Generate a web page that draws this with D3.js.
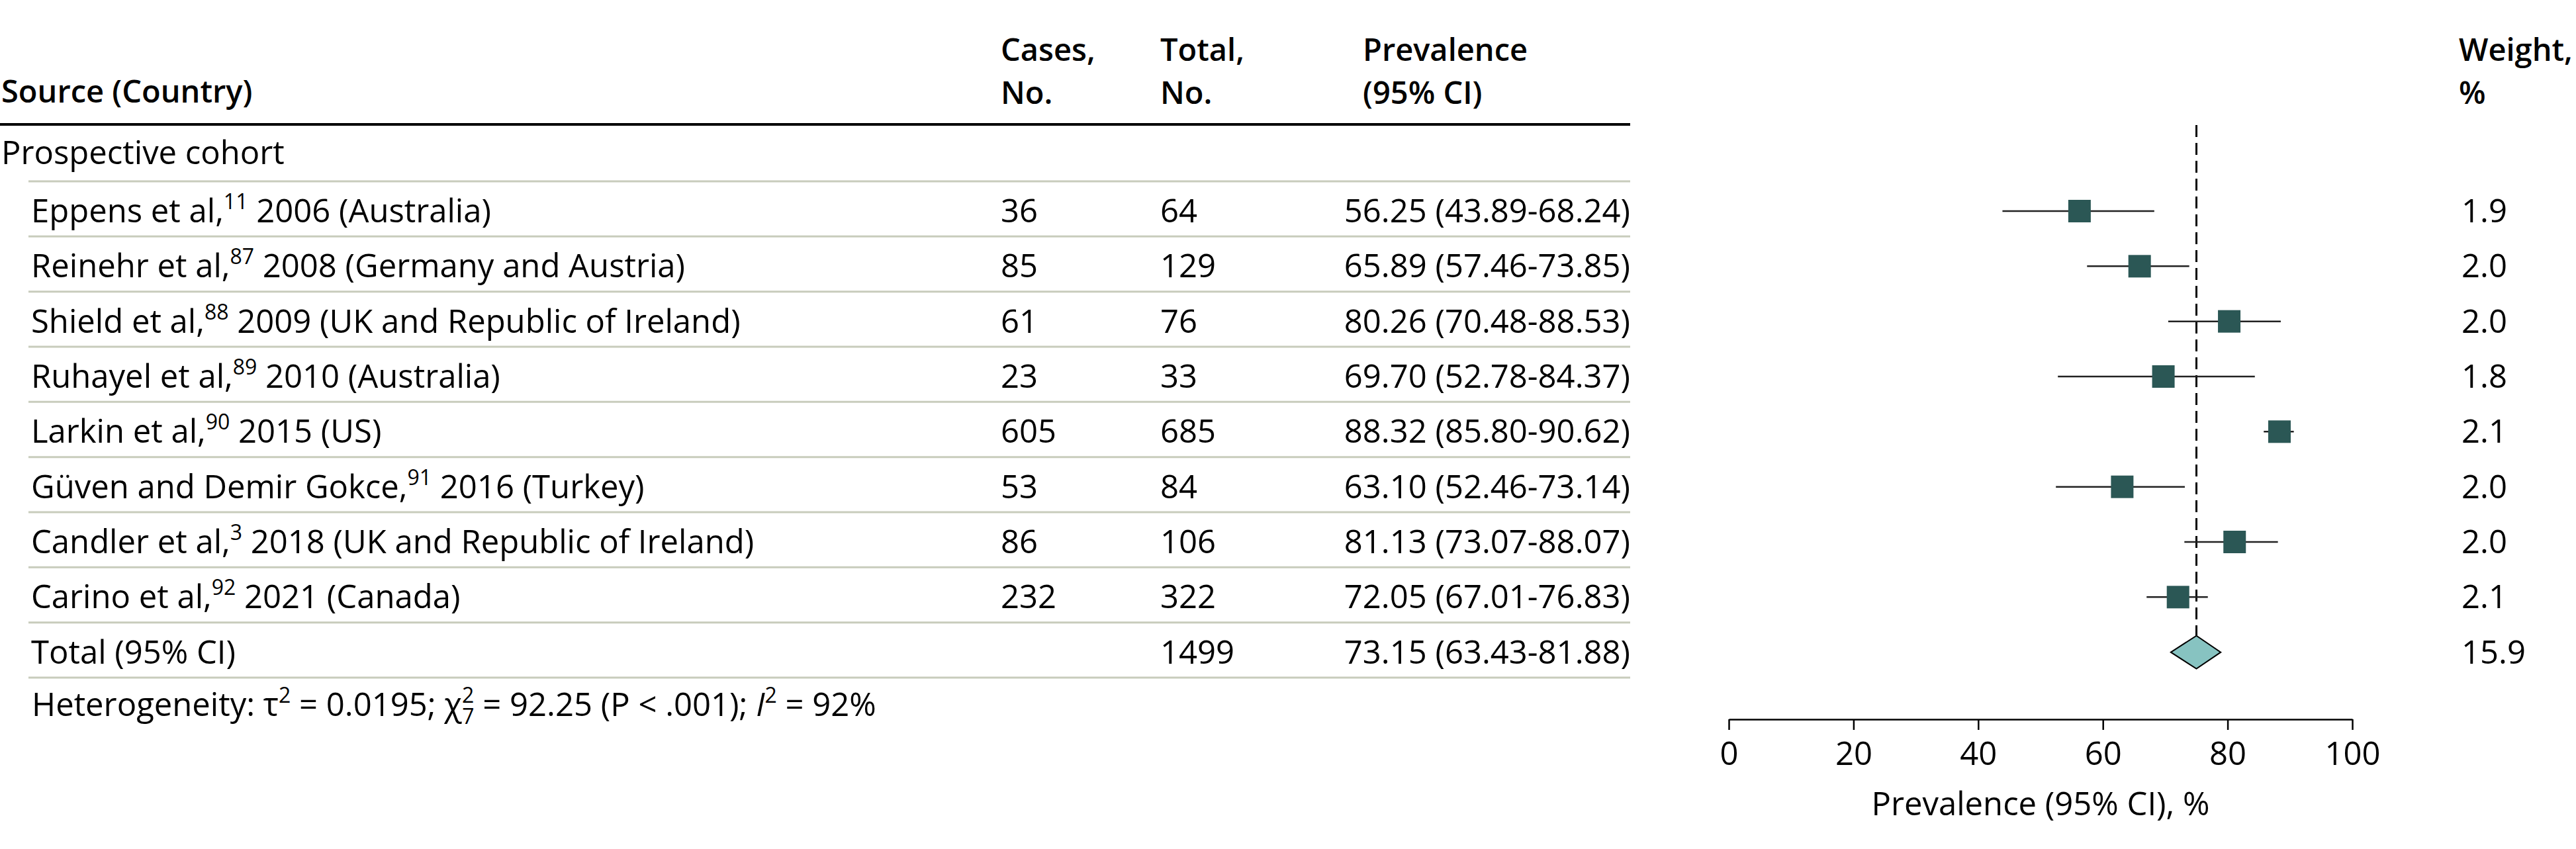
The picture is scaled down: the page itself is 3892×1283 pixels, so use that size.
<!DOCTYPE html>
<html>
<head>
<meta charset="utf-8">
<script src="https://cdn.jsdelivr.net/npm/d3@7"></script>
<style>
  body { margin: 0; background: #fff; }
  svg text { font-family: "Open Sans", "Noto Sans", sans-serif; fill: #000; }
</style>
</head>
<body>
<div id="plot"></div>
<script>
// study rows, top to bottom
var authors = ["Eppens et al,", "Reinehr et al,", "Shield et al,", "Ruhayel et al,", "Larkin et al,",
    "Güven and Demir Gokce,", "Candler et al,", "Carino et al,"];
var refs = ["11", "87", "88", "89", "90", "91", "3", "92"];
var yearCountry = ["2006 (Australia)", "2008 (Germany and Austria)", "2009 (UK and Republic of Ireland)",
    "2010 (Australia)", "2015 (US)", "2016 (Turkey)", "2018 (UK and Republic of Ireland)", "2021 (Canada)"];
var cases = [36, 85, 61, 23, 605, 53, 86, 232];
var totals = [64, 129, 76, 33, 685, 84, 106, 322];
var prevalence = [56.25, 65.89, 80.26, 69.70, 88.32, 63.10, 81.13, 72.05];
var ciLow = [43.89, 57.46, 70.48, 52.78, 85.80, 52.46, 73.07, 67.01];
var ciHigh = [68.24, 73.85, 88.53, 84.37, 90.62, 73.14, 88.07, 76.83];
var weights = ["1.9", "2.0", "2.0", "1.8", "2.1", "2.0", "2.0", "2.1"];

// pooled row (table values) and the diamond as it is drawn in the plot
var pooledTotal = 1499;
var pooledPrev = [73.15, 63.43, 81.88];
var pooledWeight = "15.9";
var diamond = [70.9, 75.0, 78.9]; // low, centre, high

var xTicks = [0, 20, 40, 60, 80, 100];

var width = 3892, height = 1283;
var fs = 49, supFs = 32, headFs = 47;

var svg = d3.select("#plot").append("svg")
    .attr("width", width)
    .attr("height", height)
    .style("font-size", fs + "px");

var x = d3.scaleLinear().domain([0, 100]).range([2612, 3554]);
var rows = d3.scaleBand().domain(d3.range(9)).range([274, 1024]);
function mid(i) { return rows(i) + 45; }
function base(i) { return rows(i) + 62; }

var col = {label: 47, cases: 1512, total: 1753, prev: 2059, prevEnd: 2463, weight: 3719};

function fmt(v) { return v.toFixed(2); }
function ciText(p, lo, hi) { return fmt(p) + " (" + fmt(lo) + "-" + fmt(hi) + ")"; }

//Header
var head = svg.append("g").style("font-weight", 600).style("font-size", headFs + "px");
head.append("text").attr("x", 2).attr("y", 155).text("Source (Country)");
[[col.cases, "Cases,", "No."], [col.total, "Total,", "No."], [col.prev, "Prevalence", "(95% CI)"],
 [col.weight - 4, "Weight,", "%"]].forEach(function(h) {
    head.append("text").attr("x", h[0]).attr("y", 92).text(h[1]);
    head.append("text").attr("x", h[0]).attr("y", 157).text(h[2]);
});

svg.append("line")
    .attr("x1", 0).attr("x2", col.prevEnd)
    .attr("y1", 188).attr("y2", 188)
    .attr("stroke", "#000").attr("stroke-width", 4);

svg.append("text").attr("x", 2).attr("y", 248).text("Prospective cohort");

//Row separators
svg.append("g").selectAll("line")
    .data(d3.range(10))
    .enter().append("line")
    .attr("x1", 43).attr("x2", col.prevEnd)
    .attr("y1", function(i) { return i < 9 ? rows(i) : rows(8) + rows.bandwidth(); })
    .attr("y2", function(i) { return i < 9 ? rows(i) : rows(8) + rows.bandwidth(); })
    .attr("stroke", "#c8ccbc").attr("stroke-width", 3);

//Study rows
var idx = d3.range(authors.length);
var labels = svg.append("g").selectAll("text.label")
    .data(idx).enter().append("text")
    .attr("class", "label")
    .attr("x", col.label)
    .attr("y", base);
labels.append("tspan").text(function(i) { return authors[i]; });
labels.append("tspan").attr("dy", -20).style("font-size", supFs + "px").text(function(i) { return refs[i]; });
labels.append("tspan").attr("dy", 20).text(function(i) { return " " + yearCountry[i]; });

svg.append("g").selectAll("text")
    .data(idx).enter().append("text")
    .attr("x", col.cases).attr("y", base)
    .text(function(i) { return cases[i]; });
svg.append("g").selectAll("text")
    .data(idx).enter().append("text")
    .attr("x", col.total).attr("y", base)
    .text(function(i) { return totals[i]; });
svg.append("g").selectAll("text")
    .data(idx).enter().append("text")
    .attr("x", col.prevEnd).attr("y", base)
    .attr("text-anchor", "end")
    .text(function(i) { return ciText(prevalence[i], ciLow[i], ciHigh[i]); });
svg.append("g").selectAll("text")
    .data(idx).enter().append("text")
    .attr("x", col.weight).attr("y", base)
    .text(function(i) { return weights[i]; });

//Total row
svg.append("text").attr("x", col.label).attr("y", base(8)).text("Total (95% CI)");
svg.append("text").attr("x", col.total).attr("y", base(8)).text(pooledTotal);
svg.append("text").attr("x", col.prevEnd).attr("y", base(8)).attr("text-anchor", "end")
    .text(ciText(pooledPrev[0], pooledPrev[1], pooledPrev[2]));
svg.append("text").attr("x", col.weight).attr("y", base(8)).text(pooledWeight);

//Heterogeneity note
var het = svg.append("text").attr("x", 48).attr("y", 1082);
het.append("tspan").text("Heterogeneity: \u03c4");
het.append("tspan").attr("dy", -20).style("font-size", supFs + "px").text("2");
het.append("tspan").attr("dy", 20).text(" = 0.0195; \u03c7");
het.append("tspan").attr("dy", -20).style("font-size", supFs + "px").text("2");
het.append("tspan").attr("dx", -18).attr("dy", 32).style("font-size", supFs + "px").text("7");
het.append("tspan").attr("dy", -12).text(" = 92.25 (P < .001); ");
het.append("tspan").style("font-style", "italic").text("I");
het.append("tspan").attr("dy", -20).style("font-size", supFs + "px").text("2");
het.append("tspan").attr("dy", 20).text(" = 92%");

//Forest plot
var plot = svg.append("g");

plot.append("line")
    .attr("x1", x(diamond[1])).attr("x2", x(diamond[1]))
    .attr("y1", 189).attr("y2", mid(8) - 25)
    .attr("stroke", "#000").attr("stroke-width", 3)
    .attr("stroke-dasharray", "18,9");

plot.selectAll("line.ci")
    .data(idx).enter().append("line")
    .attr("class", "ci")
    .attr("x1", function(i) { return x(ciLow[i]); })
    .attr("x2", function(i) { return x(ciHigh[i]); })
    .attr("y1", mid).attr("y2", mid)
    .attr("stroke", "#222").attr("stroke-width", 2.5);

plot.selectAll("rect")
    .data(idx).enter().append("rect")
    .attr("x", function(i) { return x(prevalence[i]) - 17; })
    .attr("y", function(i) { return mid(i) - 17; })
    .attr("width", 34).attr("height", 34)
    .attr("fill", "#2b5755");

plot.append("path")
    .attr("d", d3.line()([[x(diamond[0]), mid(8)], [x(diamond[1]), mid(8) - 25],
        [x(diamond[2]), mid(8)], [x(diamond[1]), mid(8) + 25]]) + "Z")
    .attr("fill", "#87c3c1")
    .attr("stroke", "#000").attr("stroke-width", 2);

// Add X axis
var axis = svg.append("g")
    .attr("transform", "translate(0,1087)")
    .call(d3.axisBottom(x).tickValues(xTicks).tickSize(16).tickSizeOuter(0));
axis.select(".domain").attr("stroke", "#000").attr("stroke-width", 2.5);
axis.selectAll(".tick line").attr("stroke", "#000").attr("stroke-width", 2.5);
axis.selectAll(".tick text")
    .attr("y", 69).attr("dy", 0)
    .style("font-size", fs + "px")
    .style("font-family", "'Open Sans', 'Noto Sans', sans-serif");

svg.append("text")
    .attr("x", x(50)).attr("y", 1232)
    .attr("text-anchor", "middle")
    .text("Prevalence (95% CI), %");
</script>
</body>
</html>
